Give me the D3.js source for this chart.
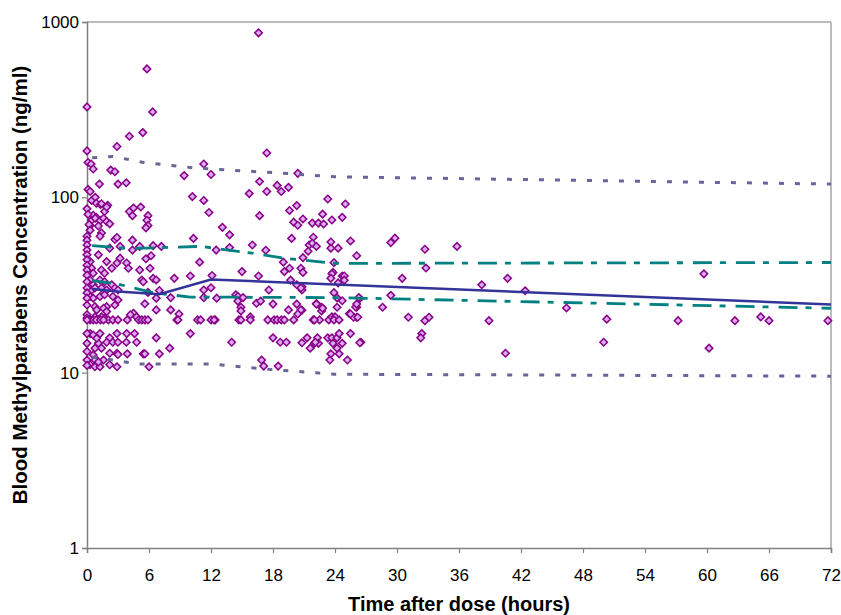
<!DOCTYPE html>
<html>
<head>
<meta charset="utf-8">
<script src="https://cdn.jsdelivr.net/npm/d3@7"></script>
<style>
  body { margin: 0; background: #fff; }
  text { font-family: "Liberation Sans", Arial, sans-serif; }
</style>
</head>
<body>
<div id="chart"></div>
<script>
// tick labels
var xTicks = [0, 6, 12, 18, 24, 30, 36, 42, 48, 54, 60, 66, 72];
var yTicks = [1, 10, 100, 1000];

// observed samples [hours, ng/ml]
var observations = [
  [16.6,867],[5.8,540],[0,328],[6.35,307],[5.4,234],[4.1,223],[2.9,195],[0,184],[17.4,179],
  [0.1,158],[0.4,155],[0.6,145],[2.3,143],[2.7,140],[11.3,155],[12.0,135],[9.4,133],[1.2,119],
  [3.0,119],[3.8,121],[0.1,111],[0.3,108],[10.2,101],[11.3,96],[11.8,82],[0.45,96],[0.8,100],
  [0.9,92.5],[1.3,91],[1.4,92],[2.0,90],[0,86],[1.7,83],[1.9,88],[0.6,79],[0.9,77],[0.45,74],
  [0.8,76],[1.26,73.6],[1.6,76],[1.9,72.8],[2.2,70.6],[0.3,69],[1.1,68.6],[1.4,62.6],[1.26,60],
  [4.1,83],[4.4,78.6],[4.5,86.8],[5.2,88],[5.9,78.6],[5.8,74],[5.9,69],[5.7,67],[2.7,57.5],
  [2.9,59],[4.4,57],[10.3,58.3],[0,60],[0,57],[0,53.5],[0,50],[0,47],[2.2,51.3],[3.2,52.5],
  [4.4,50],[5.1,52.5],[6.4,53],[7.2,52.5],[12.5,50],
  [20.4,137],[16.7,123],[15.7,105],[18.4,117],[17.4,108],[18.8,108],[19.5,114],[20.3,89.7],
  [19.6,84.2],[23.3,97.9],[25.0,91.6],[16.7,78.6],[20.0,72.2],[20.4,69.3],[20.9,75.3],[21.8,71.3],
  [22.4,71.3],[22.9,70.4],[22.8,80.2],[23.7,74.3],[24.7,76.9],[13.1,67.4],[13.8,61.1],[19.8,58.3],
  [21.9,59.2],[21.5,53.5],[21.8,54.7],[22.2,52.5],[21.4,49.3],[23.6,55.6],[23.6,51.3],[24.3,51.3],
  [25.5,56.4],[13.8,51.7],[16.0,53.5],[17.3,49.9],[20.9,45.3],[26.1,46.4],
  [29.4,55.2],[29.8,58.5],[32.7,50.6],[35.8,52.5],[32.8,39.5],[30.5,34.5],[38.2,31.7],[40.7,34.5],
  [42.4,29.3],[26.4,26.5],[29.4,27.6],[26.1,23.6],[28.6,23.6],[26.1,20.7],[31.1,20.7],[32.7,19.8],
  [33.1,20.7],[38.9,19.8],[26.5,14.9],[32.4,16.7],[32.3,15.8],[40.5,12.9],[59.7,36.6],[46.4,23.4],
  [50.3,20.2],[50.0,14.9],[57.2,19.8],[60.2,13.8],[62.7,19.8],[65.2,20.8],[66.0,19.8],[71.7,19.8],
  [23.9,42.4],[23.8,37.3],[23.7,36.6],[23.6,34.5],[24.7,35.6],[24.9,35.6],[24.9,33.7],[24.3,32.5],
  [20.8,30.9],[20.8,29.6],[23.9,28.6],[24.2,26.7],[24.7,25.7],[22.2,24.8],[22.7,23.6],[22.7,22.5],
  [20.8,22.7],[25.4,21.7],[26.0,23.7],[25.8,20.7],[26.2,20.7],[21.9,20],[22.5,20],[23.4,20],
  [23.7,20.8],[24.0,20.8],[23.9,20],[24.4,20],[21.3,15.8],[22.3,15.8],[23.3,15.8],[23.7,15.8],
  [24.2,15.8],[24.4,16.7],[25.5,16.7],[26.4,14.8],[22.0,14.7],[22.4,14.7],[23.8,14.7],[24.7,14.7],
  [20.8,14.8],[21.6,13.8],[24.2,13.8],[23.6,12.8],[24.4,12.8],[23.5,11.8],[25.2,11.8],
  [19.0,42.7],[15.0,37.7],[16.6,35.6],[19.6,39.4],[19.1,37.7],[20.7,39.4],[20.9,37.3],[19.7,33.7],
  [20.3,31.7],[20.7,30.4],[17.6,29.6],[26.3,26.8],[14.4,27.8],[14.6,27.2],[15.1,26.8],[14.6,25.6],
  [16.4,24.9],[16.8,25.6],[18.0,24.6],[14.9,23.6],[14.9,22.5],[15.8,20.8],[19.5,22.8],[20.3,24.6],
  [20.7,22.8],[20.4,21.6],[22.2,24.6],[22.8,23.3],[24.2,23.6],[25.5,21.6],[26.1,24.6],
  [12.4,20],[14.7,20],[14.9,20],[15.8,20],[17.5,20],[18.1,20],[18.4,20],[18.8,20],[19.1,20],
  [20.0,20],[22.0,20],[18.0,15.8],[14.0,14.9],[18.7,14.9],[19.3,14.9],[22.1,14.9],
  [16.9,11.8],[18.5,10.9],[17.1,10.9],
  [1.1,47],[1.9,43],[2.4,39.4],[2.9,42.2],[3.2,45],[1.4,38.5],[1.7,36.9],[1.26,33.8],[1.7,33],
  [1.4,30.4],[1.9,29.6],[2.4,31.7],[2.7,30.4],[3.0,29.6],[1.26,27.2],[1.7,27.8],[2.5,27.2],
  [3.0,26],[2.7,24.3],[1.9,23.8],[1.6,23.3],[1.9,22.3],[1.4,20.8],[1.7,20.4],[2.06,20],[2.5,20],
  [3.0,20],[1.26,16.7],[2.2,15.8],[2.9,16.7],[1.9,14.9],[2.5,14.9],[3.0,14.9],[1.1,14.7],
  [1.4,13.8],[2.2,12.9],[2.9,12.9],[3.0,12.7],[0.9,11.8],[1.6,11.8],[2.2,11.1],[2.9,10.8],
  [3.84,42.2],[4.0,39.4],[5.1,38.5],[6.1,39.4],[5.7,44.6],[6.2,46.4],[5.3,33.8],[5.45,33],
  [6.4,34.5],[6.7,33.8],[8.45,34.5],[10.0,35.6],[10.9,42.7],[12.1,35.8],[5.9,28.7],[7.0,29.4],
  [6.7,26.6],[8.1,26.8],[11.3,26.8],[12.55,26.6],[11.3,29.6],[12.0,30.5],[5.6,24.7],[6.7,22.8],
  [8.1,22.8],[8.9,21.6],[4.5,21.8],[4.2,21.4],[4.8,20.8],
  [3.9,20],[5.0,20],[5.3,20],[5.6,20],[5.9,20],[8.7,20],[8.8,20],[10.7,20],[11.0,20],[12.0,20],[12.3,20],
  [3.84,16.7],[4.6,16.7],[6.7,15.8],[10.0,16.7],[3.8,14.9],[4.8,14.9],[8.0,13.8],[3.9,12.8],
  [5.45,12.8],[5.6,12.8],[7.0,12.8],[6.0,10.8],
  [0.3,43],[0.45,39.4],[0.6,36.9],[0.3,33.8],[0.6,31.7],[0.45,29.6],[0.77,30.4],[0.3,27.2],
  [0.6,26.6],[0.77,23.8],[0.94,22.8],[0.77,20.8],[0.3,20],[0.6,20],[0.9,20],[1.3,20],[1.6,20],
  [0.3,16.7],[0.6,16.4],[0.94,15.7],[0.77,13.8],[0.6,12.6],[0.77,11.8],[0.3,11.1],[0.77,10.8],
  [1.26,10.8],[1.1,11.5],[0.1,80],[0.2,70],[0.3,65],
  [0,44],[0,41],[0,38.5],[0,36],[0,33],[0,30.4],[0,28.5],[0,26.6],[0,24.3],[0,21.4],[0,20.5],
  [0,20],[0,16.7],[0,14.7],[0,13.2],[0,11.8],[0,11]
];

// predicted percentiles [hours, ng/ml]
var median = [[0.5,30],[3,29],[7,28],[12,34],[72,24.5]];
var upperInner = [[0.5,53],[4,51],[11,52.5],[16,48],[19,45],[24,42],[72,42.5]];
var lowerInner = [[0.5,33.5],[3,32],[6.5,28.5],[10,27],[24,26.8],[72,23.3]];
var upperOuter = [[0.5,168],[2.5,171],[5.5,158],[10.5,147],[20,136],[24,131],[72,119]];
var lowerOuter = [[0.5,12.3],[5,11.2],[12,11.2],[18,10.4],[24,9.8],[72,9.55]];

var W = 841, H = 615;
var margin = {top: 22, right: 10, bottom: 67, left: 87};
var w = W - margin.left - margin.right;
var h = H - margin.top - margin.bottom;

var svg = d3.select("#chart").append("svg")
  .attr("width", W)
  .attr("height", H);

var g = svg.append("g")
  .attr("transform", "translate(" + margin.left + "," + margin.top + ")");

var x = d3.scaleLinear().domain([0, 72]).range([0, w]);
var y = d3.scaleLog().domain([1, 1000]).range([h, 0]);

// frame top/right
g.append("line").attr("x1", 0).attr("x2", w).attr("y1", 0).attr("y2", 0)
  .attr("stroke", "#a6a6a6").attr("stroke-width", 1.5);
g.append("line").attr("x1", w).attr("x2", w).attr("y1", 0).attr("y2", h)
  .attr("stroke", "#a6a6a6").attr("stroke-width", 1.5);

var yAxis = g.append("g")
  .call(d3.axisLeft(y).tickValues(yTicks).tickFormat(d3.format("d")).tickSize(5).tickPadding(3));
var xAxis = g.append("g")
  .attr("transform", "translate(0," + h + ")")
  .call(d3.axisBottom(x).tickValues(xTicks).tickSize(5).tickPadding(16));

[yAxis, xAxis].forEach(function(a){
  a.select(".domain").attr("stroke", "#808080").attr("stroke-width", 1.5);
  a.selectAll(".tick line").attr("stroke", "#808080").attr("stroke-width", 1.2);
  a.selectAll(".tick text").attr("font-size", 17).attr("fill", "#000")
    .attr("font-family", "'Liberation Sans', Arial, sans-serif");
});

var line = d3.line()
  .x(function(d){ return x(d[0]); })
  .y(function(d){ return y(d[1]); });

var symbol = d3.symbol().type(d3.symbolSquare).size(28);
g.append("g").selectAll("path")
  .data(observations)
  .enter().append("path")
  .attr("d", symbol)
  .attr("transform", function(d){ return "translate(" + x(d[0]) + "," + y(d[1]) + ") rotate(45)"; })
  .attr("fill", "#dcaaf0")
  .attr("stroke", "#880088")
  .attr("stroke-width", 1.5);

function drawLine(data, color, width, dash){
  g.append("path")
    .datum(data)
    .attr("d", line)
    .attr("fill", "none")
    .attr("stroke", color)
    .attr("stroke-width", width)
    .attr("stroke-dasharray", dash);
}

drawLine(upperOuter, "#666699", 3, "5,11");
drawLine(lowerOuter, "#666699", 3, "5,11");
drawLine(upperInner, "#008080", 2.8, "19,8,6,10");
drawLine(lowerInner, "#008080", 2.8, "19,8,6,10");
drawLine(median, "#333399", 2.5, null);

svg.append("text")
  .attr("x", margin.left + w / 2)
  .attr("y", 611)
  .attr("text-anchor", "middle")
  .attr("font-size", 20)
  .attr("font-weight", "bold")
  .text("Time after dose (hours)");

svg.append("text")
  .attr("transform", "translate(27," + (margin.top + h / 2) + ") rotate(-90)")
  .attr("text-anchor", "middle")
  .attr("font-size", 20.5)
  .attr("font-weight", "bold")
  .text("Blood Methylparabens Concentration (ng/ml)");
</script>
</body>
</html>
